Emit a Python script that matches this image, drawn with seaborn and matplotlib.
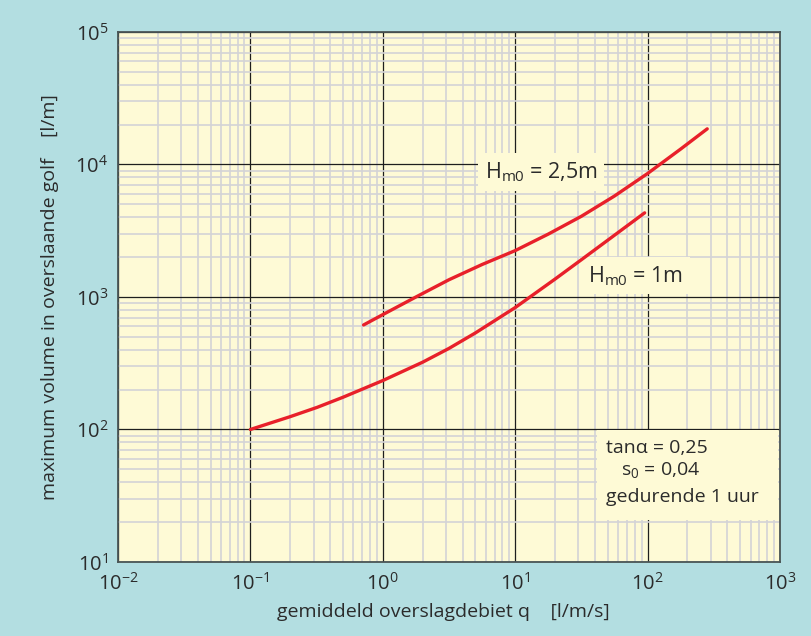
import matplotlib
matplotlib.use("Agg")
import matplotlib.pyplot as plt
import seaborn as sns
import pandas as pd
from matplotlib.patches import Rectangle
from matplotlib.ticker import LogLocator, LogFormatterMathtext, NullFormatter

# ---- data ----
q_1m = [0.1, 0.2, 0.32, 0.5, 1.0, 2.0, 3.16, 5.0, 10.0, 20.0, 32.0, 56.0, 95.0]
v_1m = [100, 125, 147, 175, 234, 322, 409, 535, 832, 1365, 1928, 2917, 4315]

q_25m = [0.716, 1.0, 1.78, 3.16, 5.62, 10.0, 17.8, 31.6, 56.2, 100.0, 178.0, 282.0]
v_25m = [615, 736, 1000, 1349, 1758, 2239, 2985, 4064, 5781, 8551, 13092, 18578]

label_25m = "H$_{m0}$ = 2,5m"
label_1m = "H$_{m0}$ = 1m"
info_lines = ["tan\u03b1 = 0,25", "s$_{0}$ = 0,04", "gedurende 1 uur"]
xlabel = "gemiddeld overslagdebiet q    [l/m/s]"
ylabel = "maximum volume in overslaande golf    [l/m]"

df = pd.concat([
    pd.DataFrame({"q": q_1m, "V": v_1m, "serie": "1m"}),
    pd.DataFrame({"q": q_25m, "V": v_25m, "serie": "2.5m"}),
])

sns.set_theme(style="white")
plt.rcParams["font.family"] = ["Open Sans", "DejaVu Sans"]
plt.rcParams["mathtext.default"] = "regular"

BG = "#b3dee1"
AXBG = "#fefad6"
RED = "#e8202a"
TXT = "#2b2b2b"

fig = plt.figure(figsize=(8.12, 6.36), dpi=100, facecolor=BG)
ax = fig.add_axes([0.1453, 0.1164, 0.8153, 0.8333])
ax.set_facecolor(AXBG)

sns.lineplot(data=df, x="q", y="V", hue="serie", palette=[RED, RED],
             lw=2.4, ax=ax, legend=False, sort=False, estimator=None, zorder=5)

ax.set_xscale("log")
ax.set_yscale("log")
ax.set_xlim(1e-2, 1e3)
ax.set_ylim(1e1, 1e5)

ax.xaxis.set_major_locator(LogLocator(base=10, numticks=20))
ax.yaxis.set_major_locator(LogLocator(base=10, numticks=20))
ax.xaxis.set_minor_locator(LogLocator(base=10, subs=range(2, 10), numticks=50))
ax.yaxis.set_minor_locator(LogLocator(base=10, subs=range(2, 10), numticks=50))
ax.xaxis.set_major_formatter(LogFormatterMathtext())
ax.yaxis.set_major_formatter(LogFormatterMathtext())
ax.xaxis.set_minor_formatter(NullFormatter())
ax.yaxis.set_minor_formatter(NullFormatter())

ax.grid(which="minor", color="#d3d3d6", lw=1.2, zorder=1)
ax.grid(which="major", color="#1e1e1e", lw=0.9, zorder=2)
ax.set_axisbelow(True)

ax.tick_params(which="both", length=0)
ax.tick_params(axis="x", pad=8, labelsize=14.5, labelcolor=TXT)
ax.tick_params(axis="y", pad=7, labelsize=14.5, labelcolor=TXT)

for s in ax.spines.values():
    s.set_visible(True)
    s.set_color("#4a5555")
    s.set_linewidth(1.3)

ax.set_xlabel(xlabel, fontsize=14, color=TXT)
ax.set_ylabel(ylabel, fontsize=14, color=TXT, labelpad=12)
ax.xaxis.set_label_coords(0.491, -0.078)

box = dict(facecolor=AXBG, edgecolor="none", pad=5)
ax.text(0.639, 0.736, label_25m, transform=ax.transAxes, fontsize=15.5,
        color=TXT, ha="center", va="center", bbox=box, zorder=4.5)
ax.text(0.782, 0.540, label_1m, transform=ax.transAxes, fontsize=15.5,
        color=TXT, ha="center", va="center", bbox=box, zorder=4.5)

ax.add_patch(Rectangle((0.7236, 0.079), 0.274, 0.170, transform=ax.transAxes,
                       facecolor=AXBG, edgecolor="none", zorder=4))
ax.text(0.737, 0.215, info_lines[0], transform=ax.transAxes, fontsize=14,
        color=TXT, ha="left", va="center", zorder=6)
ax.text(0.760, 0.173, info_lines[1], transform=ax.transAxes, fontsize=14,
        color=TXT, ha="left", va="center", zorder=6)
ax.text(0.737, 0.122, info_lines[2], transform=ax.transAxes, fontsize=14,
        color=TXT, ha="left", va="center", zorder=6)

fig.savefig("out.png", dpi=100, facecolor=BG)
